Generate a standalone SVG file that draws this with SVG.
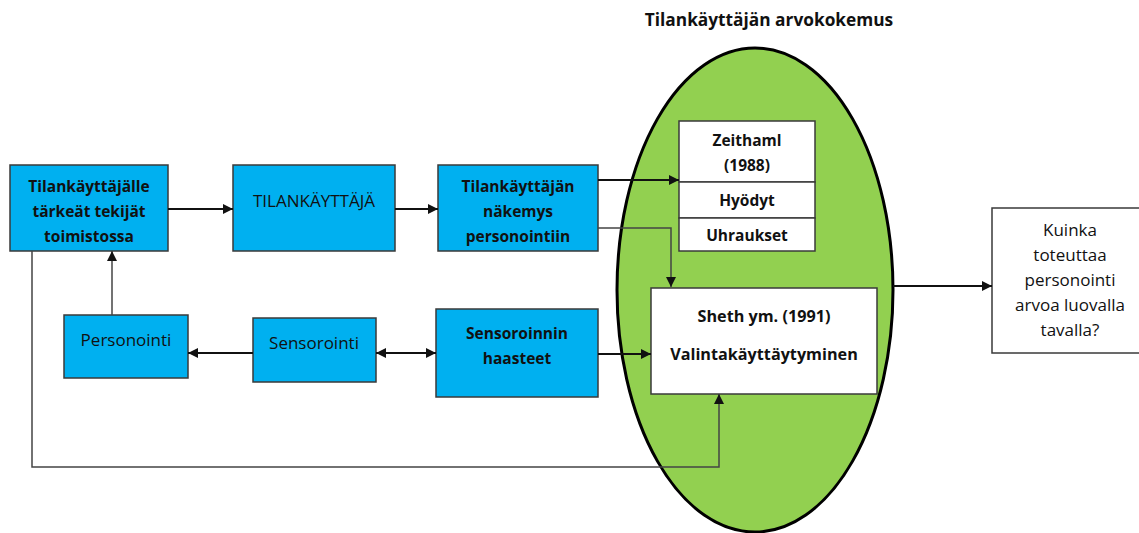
<svg xmlns="http://www.w3.org/2000/svg" width="1139" height="533" viewBox="0 0 1139 533">
  <style>
    text { font-family: "Open Sans", "Liberation Sans", sans-serif; fill: #111; text-anchor: middle; dominant-baseline: central; }
    .b { font-weight: bold; font-size: 15.5px; }
    .bl { font-weight: bold; font-size: 16.2px; }
    .r { font-size: 17px; }
    .t { font-weight: bold; font-size: 17.3px; }
    .blue { fill: #00B0F0; stroke: #3a3a3a; stroke-width: 1.5; }
    .white { fill: #ffffff; stroke: #3a3a3a; stroke-width: 1.5; }
    .link { fill: none; stroke: #111; stroke-width: 2; }
    .thin { fill: none; stroke: #444; stroke-width: 1.5; }
  </style>
  <defs>
    <marker id="ah" viewBox="0 0 10 10" refX="10" refY="5" markerWidth="10" markerHeight="10" markerUnits="userSpaceOnUse" orient="auto-start-reverse">
      <path d="M0,0 L10,5 L0,10 z" fill="#111"/>
    </marker>
  </defs>

  <rect width="1139" height="533" fill="#ffffff"/>

  <!-- value experience ellipse -->
  <g id="arvokokemus">
    <ellipse cx="755" cy="290" rx="138" ry="242" fill="#92D050" stroke="#000" stroke-width="3"/>
    <text class="t" x="769" y="19">Tilankäyttäjän arvokokemus</text>
  </g>

  <g id="tekijat">
    <rect class="blue" x="10" y="165" width="158" height="86"/>
    <text class="b" x="89" y="186">Tilankäyttäjälle</text>
    <text class="b" x="89" y="211">tärkeät tekijät</text>
    <text class="b" x="89" y="236">toimistossa</text>
  </g>

  <g id="tilankayttaja">
    <rect class="blue" x="233" y="165" width="162" height="86"/>
    <text class="r" x="314" y="200">TILANKÄYTTÄJÄ</text>
  </g>

  <g id="nakemys">
    <rect class="blue" x="438" y="165" width="160" height="86"/>
    <text class="b" x="518" y="186">Tilankäyttäjän</text>
    <text class="b" x="518" y="211">näkemys</text>
    <text class="b" x="518" y="236">personointiin</text>
  </g>

  <g id="personointi">
    <rect class="blue" x="64" y="315" width="124" height="63"/>
    <text class="r" x="126" y="339">Personointi</text>
  </g>

  <g id="sensorointi">
    <rect class="blue" x="253" y="318" width="123" height="64"/>
    <text class="r" x="314" y="342">Sensorointi</text>
  </g>

  <g id="haasteet">
    <rect class="blue" x="436" y="309" width="162" height="88"/>
    <text class="b" x="517" y="333">Sensoroinnin</text>
    <text class="b" x="517" y="358">haasteet</text>
  </g>

  <g id="zeithaml">
    <rect class="white" x="679" y="121" width="136" height="61"/>
    <text class="b" x="747" y="140">Zeithaml</text>
    <text class="b" x="747" y="165">(1988)</text>
    <rect class="white" x="679" y="182" width="136" height="36"/>
    <text class="b" x="747" y="200">Hyödyt</text>
    <rect class="white" x="679" y="218" width="136" height="33"/>
    <text class="b" x="747" y="235">Uhraukset</text>
  </g>

  <g id="sheth">
    <rect class="white" x="651" y="288" width="226" height="106"/>
    <text class="bl" x="764" y="316">Sheth ym. (1991)</text>
    <text class="bl" x="764" y="354">Valintakäyttäytyminen</text>
  </g>

  <g id="kysymys">
    <rect class="white" x="992" y="208" width="156" height="145"/>
    <text class="r" x="1070" y="229">Kuinka</text>
    <text class="r" x="1070" y="254">toteuttaa</text>
    <text class="r" x="1070" y="279">personointi</text>
    <text class="r" x="1070" y="304">arvoa luovalla</text>
    <text class="r" x="1070" y="329">tavalla?</text>
  </g>

  <g id="connectors">
    <line class="link" x1="168" y1="209" x2="233" y2="209" marker-end="url(#ah)"/>
    <line class="link" x1="395" y1="209" x2="438" y2="209" marker-end="url(#ah)"/>
    <line class="link" x1="598" y1="180" x2="679" y2="180" marker-end="url(#ah)"/>
    <polyline class="thin" points="598,228 671,228 671,287" marker-end="url(#ah)"/>
    <line class="link" x1="598" y1="354" x2="651" y2="354" marker-end="url(#ah)"/>
    <line class="link" x1="376" y1="353" x2="436" y2="353" marker-start="url(#ah)" marker-end="url(#ah)"/>
    <line class="link" x1="253" y1="353" x2="188" y2="353" marker-end="url(#ah)"/>
    <line class="thin" x1="112" y1="315" x2="112" y2="251" marker-end="url(#ah)"/>
    <polyline class="thin" points="32,251 32,467 719,467 719,394" marker-end="url(#ah)"/>
    <line class="link" x1="893" y1="286" x2="992" y2="286" marker-end="url(#ah)"/>
  </g>
</svg>
